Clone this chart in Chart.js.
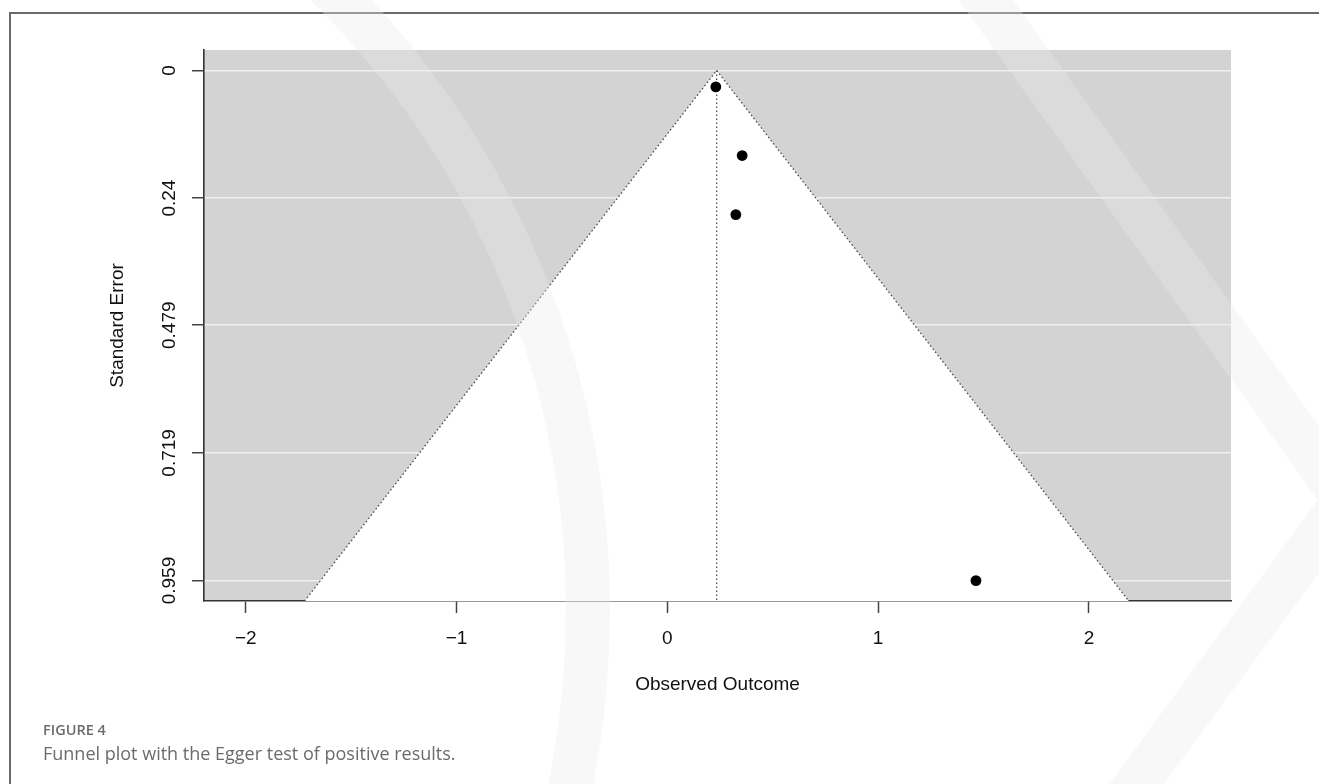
<!DOCTYPE html>
<html>
<head>
<meta charset="utf-8">
<script src="https://cdn.jsdelivr.net/npm/chart.js@4.4.0/dist/chart.umd.min.js"></script>
<style>
  html, body { margin: 0; padding: 0; background: #fff; }
  #wrap { position: relative; width: 1319px; height: 784px; overflow: hidden; }
  #frame { position: absolute; left: 9px; top: 12px; width: 1400px; height: 900px;
           border-left: 2px solid #6a6a6a; border-top: 2px solid #6a6a6a; }
  #funnel { position: absolute; left: 0; top: 0; }
  .cap { position: absolute; left: 43px; font-family: "Open Sans", "Noto Sans", sans-serif; color: #6b6b6b; line-height: 1; }
  #figno { top: 723px; font-size: 14.5px; font-weight: 600; }
  #figtxt { top: 744px; font-size: 18px; }
  #mark { position: absolute; left: 0; top: 0; pointer-events: none; }
</style>
</head>
<body>
<div id="wrap">
  <div id="frame"></div>
  <canvas id="funnel" width="1319" height="784"></canvas>
  <div class="cap" id="figno">FIGURE 4</div>
  <div class="cap" id="figtxt">Funnel plot with the Egger test of positive results.</div>
  <svg id="mark" width="1319" height="784">
    <circle cx="-290" cy="610" r="878" fill="none" stroke="rgba(236,236,236,0.35)" stroke-width="44"/>
    <path d="M975 -15 L1345 500 L1125 800" fill="none" stroke="rgba(236,236,236,0.35)" stroke-width="44"/>
  </svg>
</div>
<script>
// study data
const studyEffects = [0.230, 0.355, 0.325, 1.464];
const studyErrors = [0.031, 0.160, 0.271, 0.959];
const pooledEstimate = 0.234;

const xTickValues = [-2, -1, 0, 1, 2];
const yTickValues = [0, 0.24, 0.479, 0.719, 0.959];
const yTickLabels = ['0', '0.24', '0.479', '0.719', '0.959'];
const xRange = [-2.198, 2.674];
const yRange = [-0.0384, 0.9974];

const axisFont = '"Liberation Sans", Arial, sans-serif';
const z = 1.96;
const seMax = yRange[1];

// pseudo confidence region
const funnelPts = [
    { x: pooledEstimate - z * seMax, y: seMax },
    { x: pooledEstimate, y: 0 },
    { x: pooledEstimate + z * seMax, y: seMax }
];
const centerPts = [
    { x: pooledEstimate, y: 0 },
    { x: pooledEstimate, y: seMax }
];
const studyPts = studyEffects.map((v, i) => ({ x: v, y: studyErrors[i] }));

const funnelDecor = {
    id: 'funnelDecor',
    beforeDraw(chart) {
        const { ctx, chartArea: a } = chart;
        ctx.save();
        ctx.fillStyle = '#d3d3d3';
        ctx.fillRect(a.left, a.top, a.right - a.left, a.bottom - a.top);
        ctx.restore();
    },
    afterDraw(chart) {
        const { ctx, chartArea: a } = chart;
        const y = chart.scales.y;
        ctx.save();
        ctx.fillStyle = '#111';
        ctx.font = '19px ' + axisFont;
        ctx.textAlign = 'center';
        ctx.textBaseline = 'middle';
        // y tick labels, rotated like R's axis()
        yTickValues.forEach((v, i) => {
            ctx.save();
            ctx.translate(170, y.getPixelForValue(v));
            ctx.rotate(-Math.PI / 2);
            ctx.fillText(yTickLabels[i], 0, 0);
            ctx.restore();
        });
        // axis titles
        ctx.save();
        ctx.translate(118, (a.top + a.bottom) / 2);
        ctx.rotate(-Math.PI / 2);
        ctx.fillText('Standard Error', 0, 0);
        ctx.restore();
        ctx.fillText('Observed Outcome', (a.left + a.right) / 2, 685);
        ctx.restore();
    }
};

new Chart(document.getElementById('funnel'), {
    type: 'scatter',
    data: {
        datasets: [
            {
                type: 'line',
                data: funnelPts,
                borderColor: '#4a4a4a',
                borderWidth: 1.3,
                borderDash: [1.5, 2.5],
                backgroundColor: '#ffffff',
                fill: 'shape',
                pointRadius: 0,
                tension: 0,
                order: 3
            },
            {
                type: 'line',
                data: centerPts,
                borderColor: '#444',
                borderWidth: 1.2,
                borderDash: [1.5, 2.5],
                fill: false,
                pointRadius: 0,
                order: 2
            },
            {
                data: studyPts,
                backgroundColor: '#000',
                borderWidth: 0,
                pointRadius: 5.4,
                order: 1
            }
        ]
    },
    options: {
        responsive: false,
        animation: false,
        devicePixelRatio: 1,
        layout: { padding: { top: 50, right: 88, left: 0, bottom: 0 } },
        plugins: {
            legend: { display: false },
            tooltip: { enabled: false }
        },
        scales: {
            x: {
                type: 'linear',
                min: xRange[0],
                max: xRange[1],
                afterBuildTicks: s => { s.ticks = xTickValues.map(v => ({ value: v })); },
                afterFit: s => { s.height = 183; },
                grid: { drawOnChartArea: false, drawTicks: true, tickLength: 12, tickColor: '#444', tickWidth: 1.5 },
                border: { display: true, color: '#333', width: 1.6 },
                ticks: {
                    padding: 14,
                    color: '#111',
                    font: { family: axisFont, size: 19 },
                    maxRotation: 0,
                    callback: v => (v < 0 ? '\u2212' + Math.abs(v) : String(v))
                }
            },
            y: {
                type: 'linear',
                reverse: true,
                min: yRange[0],
                max: yRange[1],
                afterBuildTicks: s => { s.ticks = yTickValues.map(v => ({ value: v })); },
                afterFit: s => { s.width = 204; },
                grid: { color: '#f0f0f0', lineWidth: 1.5, drawTicks: true, tickLength: 12, tickColor: '#444', tickWidth: 1.5 },
                border: { display: true, color: '#333', width: 1.6 },
                ticks: { display: false }
            }
        }
    },
    plugins: [funnelDecor]
});
</script>
</body>
</html>
